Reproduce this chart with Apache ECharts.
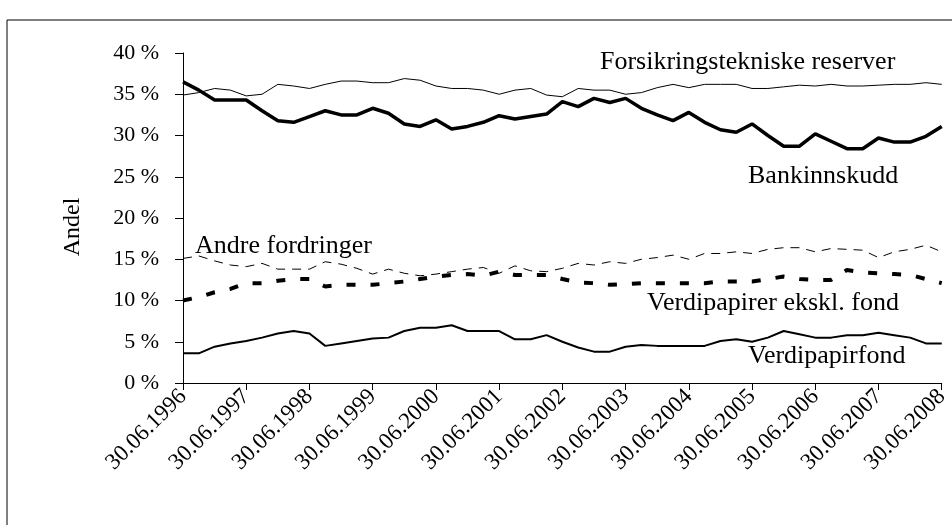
<!DOCTYPE html>
<html>
<head>
<meta charset="utf-8">
<script src="https://cdn.jsdelivr.net/npm/echarts@6/dist/echarts.min.js"></script>
<style>
  html, body { margin: 0; padding: 0; background: #fff; }
  #chart { width: 952px; height: 525px; }
</style>
</head>
<body>
<div id="chart"></div>
<script>
// kvartalsdatoer 30.06.1996 - 30.06.2008
var quarterEnds = ['30.06.', '30.09.', '31.12.', '31.03.'];
var dates = [];
for (var i = 0; i < 49; i++) {
  var q = i % 4;
  var year = 1996 + Math.floor(i / 4) + (q === 3 ? 1 : 0);
  dates.push(quarterEnds[q] + year);
}

var forsikring = [34.9, 35.2, 35.7, 35.5, 34.8, 35.0, 36.2, 36.0, 35.7, 36.2, 36.6, 36.6, 36.4,
  36.4, 36.9, 36.7, 36.0, 35.7, 35.7, 35.5, 35.0, 35.5, 35.7, 34.9, 34.7, 35.7, 35.5, 35.5, 35.0,
  35.2, 35.8, 36.2, 35.8, 36.2, 36.2, 36.2, 35.7, 35.7, 35.9, 36.1, 36.0, 36.2, 36.0, 36.0, 36.1,
  36.2, 36.2, 36.4, 36.2];

var bankinnskudd = [36.5, 35.5, 34.3, 34.3, 34.3, 33.0, 31.8, 31.6, 32.3, 33.0, 32.5, 32.5, 33.3,
  32.7, 31.4, 31.1, 31.9, 30.8, 31.1, 31.6, 32.4, 32.0, 32.3, 32.6, 34.1, 33.5, 34.5, 34.0, 34.5,
  33.3, 32.5, 31.8, 32.8, 31.6, 30.7, 30.4, 31.4, 30.0, 28.7, 28.7, 30.2, 29.3, 28.4, 28.4, 29.7,
  29.2, 29.2, 29.9, 31.1];

var andreFordringer = [15.1, 15.4, 14.8, 14.3, 14.1, 14.5, 13.8, 13.8, 13.8, 14.7, 14.4, 13.9, 13.2,
  13.8, 13.3, 13.0, 13.2, 13.5, 13.8, 14.0, 13.3, 14.2, 13.6, 13.5, 13.9, 14.5, 14.3, 14.7, 14.5,
  15.0, 15.2, 15.5, 15.0, 15.7, 15.7, 15.9, 15.7, 16.2, 16.4, 16.4, 15.9, 16.3, 16.2, 16.1, 15.2,
  15.9, 16.2, 16.7, 15.9];

var verdipapirer = [10.0, 10.4, 11.0, 11.4, 12.1, 12.1, 12.4, 12.6, 12.6, 11.7, 11.9, 11.9, 11.9,
  12.1, 12.3, 12.6, 12.9, 13.1, 13.2, 13.0, 13.5, 13.1, 13.1, 13.1, 12.6, 12.2, 12.1, 11.9, 12.0,
  12.1, 12.1, 12.1, 12.1, 12.1, 12.3, 12.3, 12.3, 12.6, 12.9, 12.6, 12.5, 12.5, 13.7, 13.4, 13.3,
  13.2, 13.1, 12.6, 12.1];

var verdipapirfond = [3.6, 3.6, 4.4, 4.8, 5.1, 5.5, 6.0, 6.3, 6.0, 4.5, 4.8, 5.1, 5.4,
  5.5, 6.3, 6.7, 6.7, 7.0, 6.3, 6.3, 6.3, 5.3, 5.3, 5.8, 5.0, 4.3, 3.8, 3.8, 4.4,
  4.6, 4.5, 4.5, 4.5, 4.5, 5.1, 5.3, 5.0, 5.5, 6.3, 5.9, 5.5, 5.5, 5.8, 5.8, 6.1,
  5.8, 5.5, 4.8, 4.8];

var font = "'Liberation Serif', 'Times New Roman', serif";

// tekst i plottet, y = grunnlinje
function label (text, x, y) {
  return {
    type: 'text', x: x, y: y - 9, silent: true,
    style: { text: text, font: '26px ' + font, fill: '#000', verticalAlign: 'middle' }
  };
}

var chart = echarts.init(document.getElementById('chart'), null, { renderer: 'canvas' });
chart.setOption({
  animation: false,
  backgroundColor: '#fff',
  grid: { left: 183, right: 5, top: 53, bottom: 142 },
  xAxis: {
    type: 'category',
    data: dates,
    boundaryGap: false,
    axisLine: { lineStyle: { color: '#000', width: 1 } },
    axisTick: { interval: 3, length: 7, lineStyle: { color: '#000' } },
    axisLabel: {
      interval: 3, rotate: 45, margin: 10, color: '#000',
      fontFamily: font, fontSize: 23
    },
    splitLine: { show: false }
  },
  yAxis: {
    type: 'value',
    min: 0, max: 40, interval: 5,
    axisLine: { show: true, lineStyle: { color: '#000', width: 1 } },
    axisTick: { show: true, length: 8, lineStyle: { color: '#000' } },
    axisLabel: {
      formatter: '{value} %', margin: 24, color: '#000',
      fontFamily: font, fontSize: 22
    },
    splitLine: { show: false }
  },
  graphic: [
    // ramme rundt figuren
    {
      type: 'rect', shape: { x: 7, y: 20, width: 960, height: 520 }, silent: true,
      style: { fill: 'none', stroke: '#000', lineWidth: 1 }
    },
    {
      type: 'text', x: 73, y: 227, rotation: Math.PI / 2, silent: true,
      style: { text: 'Andel', font: '24px ' + font, fill: '#000', align: 'center', verticalAlign: 'middle' }
    },
    label('Forsikringstekniske reserver', 600, 71),
    label('Bankinnskudd', 748, 185),
    label('Andre fordringer', 195, 255),
    label('Verdipapirer ekskl. fond', 647, 312),
    label('Verdipapirfond', 748, 365)
  ],
  series: [
    {
      name: 'Forsikringstekniske reserver', type: 'line', data: forsikring,
      symbol: 'none', lineStyle: { color: '#000', width: 1 }
    },
    {
      name: 'Bankinnskudd', type: 'line', data: bankinnskudd,
      symbol: 'none', lineStyle: { color: '#000', width: 3.5 }
    },
    {
      name: 'Andre fordringer', type: 'line', data: andreFordringer,
      symbol: 'none', lineStyle: { color: '#000', width: 1, type: [9, 7] }
    },
    {
      name: 'Verdipapirer ekskl. fond', type: 'line', data: verdipapirer,
      symbol: 'none', lineStyle: { color: '#000', width: 4, type: [9, 15] }
    },
    {
      name: 'Verdipapirfond', type: 'line', data: verdipapirfond,
      symbol: 'none', lineStyle: { color: '#000', width: 2 }
    }
  ]
});
</script>
</body>
</html>
